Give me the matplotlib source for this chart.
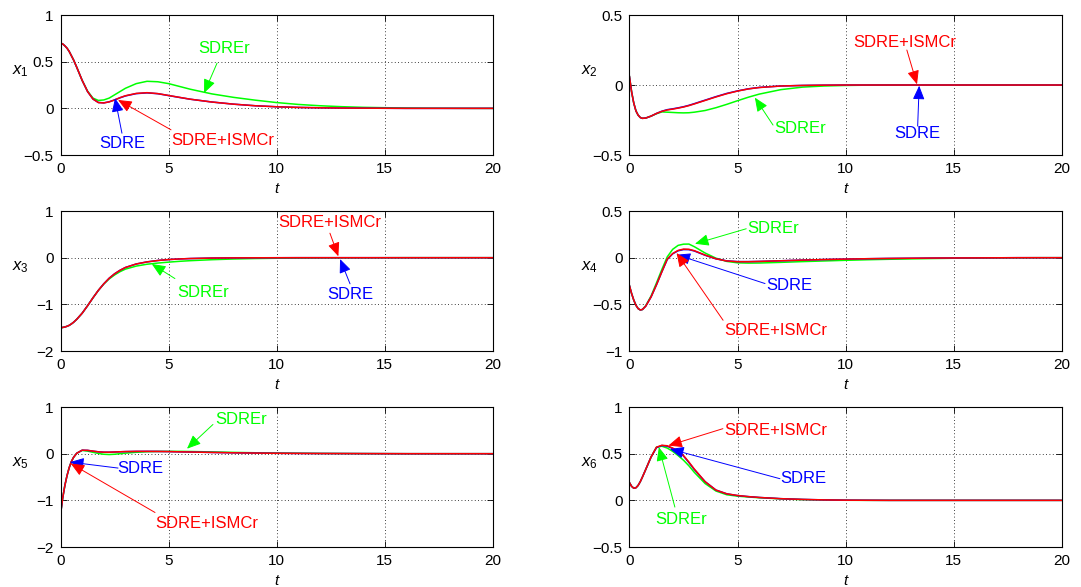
import numpy as np
import matplotlib
matplotlib.use("Agg")
import matplotlib.pyplot as plt

plt.rcParams['font.family'] = ['Liberation Sans', 'DejaVu Sans']
plt.rcParams['mathtext.fontset'] = 'custom'
plt.rcParams['mathtext.rm'] = 'Liberation Sans'
plt.rcParams['mathtext.it'] = 'Liberation Sans:italic'

# sample times (s)
t = [0, 0.1, 0.2, 0.3, 0.4, 0.5, 0.6, 0.75, 1.0, 1.25, 1.5, 1.75, 2.0, 2.25, 2.5,
     2.75, 3.0, 3.5, 4.0, 4.5, 5, 5.5, 6, 7, 8, 9, 10, 11, 12, 13, 14, 15, 16, 17,
     18, 19, 20]

# state x1
x1_sdre = [0.70, 0.69, 0.67, 0.645, 0.61, 0.565, 0.52, 0.44, 0.30, 0.18, 0.10, 0.063,
           0.059, 0.07, 0.09, 0.113, 0.133, 0.158, 0.166, 0.157, 0.137, 0.117, 0.098,
           0.068, 0.045, 0.028, 0.017, 0.010, 0.006, 0.003, 0.002, 0.001, 0, 0, 0, 0, 0]
x1_sdrer = [0.70, 0.69, 0.67, 0.645, 0.61, 0.565, 0.52, 0.44, 0.30, 0.185, 0.11, 0.085,
            0.09, 0.11, 0.145, 0.18, 0.215, 0.265, 0.29, 0.285, 0.265, 0.235, 0.205,
            0.155, 0.118, 0.088, 0.062, 0.042, 0.028, 0.018, 0.011, 0.007, 0.004, 0.002,
            0.001, 0, 0]
x1_ismc = [0.70, 0.69, 0.67, 0.645, 0.61, 0.565, 0.52, 0.44, 0.30, 0.18, 0.10, 0.062,
           0.058, 0.07, 0.09, 0.115, 0.135, 0.16, 0.168, 0.158, 0.138, 0.118, 0.098,
           0.068, 0.045, 0.028, 0.017, 0.010, 0.006, 0.003, 0.002, 0.001, 0, 0, 0, 0, 0]

# state x2
x2_sdre = [0.06, -0.05, -0.13, -0.185, -0.215, -0.232, -0.238, -0.236, -0.222, -0.203,
           -0.187, -0.176, -0.170, -0.163, -0.155, -0.145, -0.133, -0.108, -0.083,
           -0.060, -0.042, -0.027, -0.017, -0.007, -0.003, -0.001, 0, 0, 0, 0, 0, 0, 0,
           0, 0, 0, 0]
x2_sdrer = [0.06, -0.05, -0.13, -0.185, -0.215, -0.232, -0.238, -0.236, -0.222, -0.205,
            -0.192, -0.194, -0.196, -0.198, -0.199, -0.198, -0.194, -0.182, -0.162,
            -0.138, -0.112, -0.087, -0.065, -0.033, -0.015, -0.007, -0.003, -0.001, 0,
            0, 0, 0, 0, 0, 0, 0, 0]
x2_ismc = [0.06, -0.05, -0.13, -0.185, -0.215, -0.232, -0.238, -0.236, -0.222, -0.203,
           -0.188, -0.178, -0.172, -0.165, -0.157, -0.147, -0.135, -0.110, -0.085,
           -0.062, -0.043, -0.028, -0.018, -0.007, -0.003, -0.001, 0, 0, 0, 0, 0, 0, 0,
           0, 0, 0, 0]

# state x3
x3_sdre = [-1.50, -1.495, -1.485, -1.47, -1.45, -1.42, -1.385, -1.32, -1.19, -1.03,
           -0.86, -0.70, -0.56, -0.44, -0.345, -0.27, -0.21, -0.135, -0.09, -0.06,
           -0.04, -0.027, -0.018, -0.008, -0.004, -0.002, -0.001, 0, 0, 0, 0, 0, 0, 0,
           0, 0, 0]
x3_sdrer = [-1.50, -1.495, -1.485, -1.47, -1.45, -1.42, -1.385, -1.32, -1.19, -1.03,
            -0.86, -0.70, -0.565, -0.455, -0.37, -0.30, -0.245, -0.18, -0.14, -0.115,
            -0.095, -0.078, -0.064, -0.043, -0.028, -0.018, -0.012, -0.008, -0.005,
            -0.003, -0.002, -0.001, 0, 0, 0, 0, 0]
x3_ismc = [-1.50, -1.495, -1.485, -1.47, -1.45, -1.42, -1.385, -1.32, -1.19, -1.03,
           -0.86, -0.70, -0.56, -0.44, -0.345, -0.27, -0.21, -0.135, -0.09, -0.06,
           -0.04, -0.027, -0.018, -0.008, -0.004, -0.002, -0.001, 0, 0, 0, 0, 0, 0, 0,
           0, 0, 0]

# state x4
x4_sdre = [-0.30, -0.385, -0.455, -0.51, -0.545, -0.56, -0.555, -0.52, -0.42, -0.29,
           -0.15, -0.018, 0.042, 0.074, 0.087, 0.086, 0.072, 0.026, -0.012, -0.034,
           -0.042, -0.042, -0.040, -0.033, -0.026, -0.020, -0.015, -0.011, -0.008,
           -0.006, -0.004, -0.003, -0.002, -0.001, 0, 0, 0]
x4_sdrer = [-0.30, -0.385, -0.455, -0.51, -0.545, -0.56, -0.555, -0.515, -0.41, -0.27,
            -0.125, 0.01, 0.09, 0.132, 0.145, 0.146, 0.118, 0.05, -0.005, -0.04,
            -0.055, -0.058, -0.057, -0.050, -0.042, -0.035, -0.028, -0.022, -0.017,
            -0.013, -0.009, -0.006, -0.004, -0.002, -0.001, 0, 0]
x4_ismc = [-0.30, -0.385, -0.455, -0.51, -0.545, -0.56, -0.555, -0.52, -0.42, -0.29,
           -0.15, -0.015, 0.045, 0.078, 0.092, 0.09, 0.075, 0.028, -0.012, -0.035,
           -0.043, -0.043, -0.040, -0.033, -0.026, -0.020, -0.015, -0.011, -0.008,
           -0.006, -0.004, -0.003, -0.002, -0.001, 0, 0, 0]

# state x5
x5_sdre = [-1.30, -0.95, -0.68, -0.47, -0.30, -0.17, -0.08, 0.01, 0.074, 0.071, 0.054,
           0.040, 0.032, 0.032, 0.036, 0.041, 0.045, 0.049, 0.050, 0.048, 0.045, 0.040,
           0.036, 0.027, 0.019, 0.013, 0.009, 0.006, 0.004, 0.003, 0.002, 0.001, 0, 0,
           0, 0, 0]
x5_sdrer = [-1.30, -0.95, -0.68, -0.47, -0.30, -0.17, -0.08, 0.01, 0.07, 0.055, 0.03,
            0.005, -0.012, -0.018, -0.012, 0.0, 0.012, 0.03, 0.042, 0.048, 0.05, 0.05,
            0.047, 0.038, 0.028, 0.02, 0.014, 0.01, 0.006, 0.004, 0.002, 0.001, 0, 0,
            0, 0, 0]
x5_ismc = [-1.30, -0.95, -0.68, -0.47, -0.30, -0.17, -0.08, 0.01, 0.075, 0.072, 0.055,
           0.040, 0.032, 0.032, 0.036, 0.041, 0.045, 0.050, 0.050, 0.048, 0.045, 0.040,
           0.036, 0.027, 0.019, 0.013, 0.009, 0.006, 0.004, 0.003, 0.002, 0.001, 0, 0,
           0, 0, 0]

# state x6
x6_sdre = [0.19, 0.15, 0.13, 0.135, 0.16, 0.20, 0.25, 0.33, 0.465, 0.565, 0.588, 0.58,
           0.555, 0.525, 0.475, 0.405, 0.33, 0.20, 0.11, 0.07, 0.051, 0.04, 0.031,
           0.018, 0.01, 0.005, 0.002, 0.001, 0, 0, 0, 0, 0, 0, 0, 0, 0]
x6_sdrer = [0.19, 0.15, 0.13, 0.135, 0.16, 0.20, 0.25, 0.33, 0.465, 0.57, 0.58, 0.56,
            0.525, 0.48, 0.43, 0.37, 0.30, 0.18, 0.10, 0.06, 0.045, 0.036, 0.028,
            0.016, 0.008, 0.004, 0.001, 0, 0, 0, 0, 0, 0, 0, 0, 0, 0]
x6_ismc = [0.19, 0.15, 0.13, 0.135, 0.16, 0.20, 0.25, 0.33, 0.465, 0.57, 0.59, 0.585,
           0.56, 0.53, 0.48, 0.41, 0.335, 0.20, 0.11, 0.07, 0.052, 0.04, 0.031, 0.018,
           0.01, 0.005, 0.002, 0.001, 0, 0, 0, 0, 0, 0, 0, 0, 0]

states = [
    ('1', x1_sdre, x1_sdrer, x1_ismc, (-0.5, 1), [-0.5, 0, 0.5, 1]),
    ('2', x2_sdre, x2_sdrer, x2_ismc, (-0.5, 0.5), [-0.5, 0, 0.5]),
    ('3', x3_sdre, x3_sdrer, x3_ismc, (-2, 1), [-2, -1, 0, 1]),
    ('4', x4_sdre, x4_sdrer, x4_ismc, (-1, 0.5), [-1, -0.5, 0, 0.5]),
    ('5', x5_sdre, x5_sdrer, x5_ismc, (-2, 1), [-2, -1, 0, 1]),
    ('6', x6_sdre, x6_sdrer, x6_ismc, (-0.5, 1), [-0.5, 0, 0.5, 1]),
]

GREEN = (0, 1, 0)
BLUE = (0, 0, 1)
RED = (1, 0, 0)

# (label, colour, text xy, arrow tail xy, arrow tip xy) per panel
notes = [
    [('SDREr', GREEN, (7.55, 0.646), (7.24, 0.485), (6.64, 0.164)),
     ('SDRE', BLUE, (2.84, -0.375), (2.84, -0.266), (2.52, 0.11)),
     ('SDRE+ISMCr', RED, (7.52, -0.34), (5.11, -0.23), (2.66, 0.09))],
    [('SDRE+ISMCr', RED, (12.73, 0.307), (12.83, 0.25), (13.3, 0.005)),
     ('SDRE', BLUE, (13.3, -0.343), (13.33, -0.293), (13.4, -0.005)),
     ('SDREr', GREEN, (7.88, -0.307), (6.64, -0.286), (5.8, -0.09))],
    [('SDREr', GREEN, (6.61, -0.745), (5.29, -0.447), (4.22, -0.135)),
     ('SDRE+ISMCr', RED, (12.46, 0.75), (12.46, 0.525), (12.85, 0.03)),
     ('SDRE', BLUE, (13.39, -0.79), (13.39, -0.56), (12.93, -0.03))],
    [('SDREr', GREEN, (6.64, 0.31), (5.4, 0.31), (3.03, 0.149)),
     ('SDRE', BLUE, (7.40, -0.3), (6.27, -0.277), (2.18, 0.032)),
     ('SDRE+ISMCr', RED, (6.77, -0.78), (4.33, -0.67), (2.18, 0.05))],
    [('SDREr', GREEN, (8.35, 0.73), (7.05, 0.626), (5.85, 0.107)),
     ('SDRE', BLUE, (3.70, -0.31), (2.66, -0.308), (0.44, -0.18)),
     ('SDRE+ISMCr', RED, (6.76, -1.49), (4.37, -1.26), (0.47, -0.21))],
    [('SDRE+ISMCr', RED, (6.78, 0.747), (4.32, 0.768), (1.8, 0.587)),
     ('SDRE', BLUE, (8.05, 0.235), (6.96, 0.232), (1.88, 0.55)),
     ('SDREr', GREEN, (2.38, -0.21), (2.1, -0.072), (1.36, 0.57))],
]

fig = plt.figure(figsize=(10.81, 5.87), dpi=100)
lefts = [0.056, 0.5823]
bottoms = [0.7359, 0.402, 0.0681]
w, h = 0.400, 0.2385

for i, (idx, sdre, sdrer, ismc, ylim, yticks) in enumerate(states):
    ax = fig.add_axes([lefts[i % 2], bottoms[i // 2], w, h])
    ax.plot(t, sdrer, color=GREEN, lw=1.1)
    ax.plot(t, sdre, color=BLUE, lw=1.1)
    ax.plot(t, ismc, color=RED, lw=1.1)

    ax.set_xlim(0, 20)
    ax.set_ylim(*ylim)
    ax.set_xticks([0, 5, 10, 15, 20])
    ax.set_yticks(yticks)
    ax.set_yticklabels(['\u2212' + f'{abs(v):g}' if v < 0 else f'{v:g}' for v in yticks])
    ax.tick_params(direction='in', length=4, width=0.6, top=True, right=True,
                   labelsize=11, pad=5)
    ax.grid(True, color='black', linestyle=(0, (1, 3)), linewidth=0.6)
    for s in ax.spines.values():
        s.set_linewidth(0.8)

    ax.set_xlabel('t', fontstyle='italic', fontsize=11, labelpad=4)
    ax.set_ylabel(r'$x_{%s}$' % idx, fontsize=12, rotation=0, va='center', ha='center')
    ax.yaxis.set_label_coords(-0.092, 0.6)

    for label, col, txy, tail, tip in notes[i]:
        ax.annotate('', xy=tip, xytext=tail,
                    arrowprops=dict(arrowstyle='-|>,head_length=0.7,head_width=0.3',
                                    color=col, lw=0.7, mutation_scale=12,
                                    shrinkA=0, shrinkB=0))
        ax.text(txy[0], txy[1], label, color=col, fontsize=12,
                ha='center', va='center')

fig.savefig('out.png', dpi=100)
